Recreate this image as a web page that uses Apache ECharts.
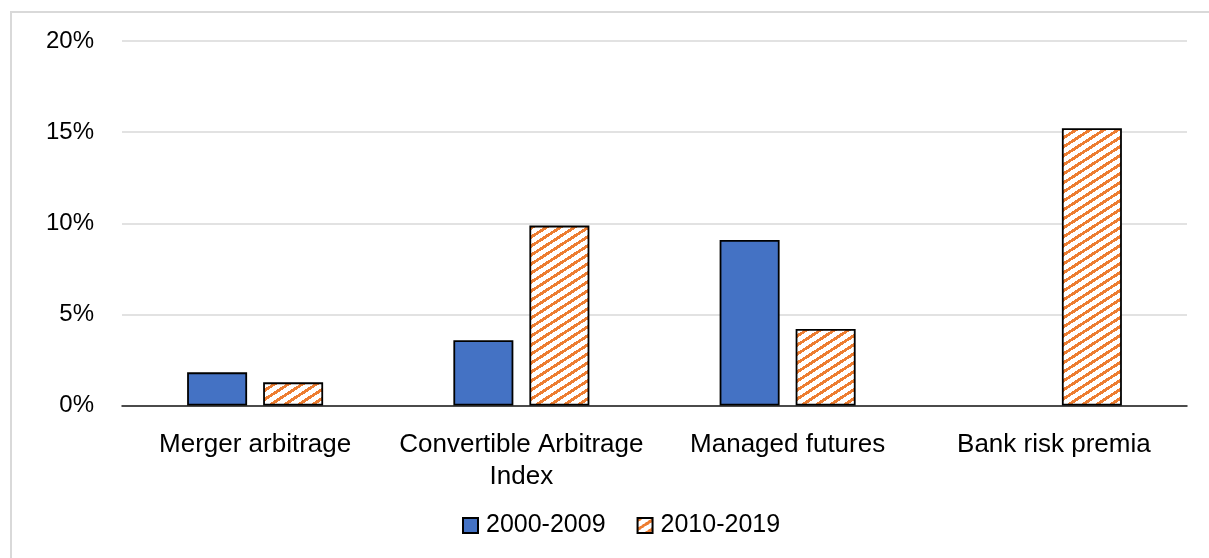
<!DOCTYPE html>
<html>
<head>
<meta charset="utf-8">
<script src="https://cdn.jsdelivr.net/npm/echarts@6/dist/echarts.min.js"></script>
<style>
html,body{margin:0;padding:0;background:#fff;}
#chart{width:1209px;height:558px;}
</style>
</head>
<body>
<div id="chart"></div>
<script>
const categories = ["Merger arbitrage", "Convertible Arbitrage\nIndex", "Managed futures", "Bank risk premia"];
const seriesNames = ["2000-2009", "2010-2019"];
const values2000 = [1.82, 3.58, 9.08, null];
const values2010 = [1.27, 9.87, 4.2, 15.21];
const yTicks = { min: 0, max: 20, interval: 5 };

function makeHatch() {
  const w = 14, h = 9;
  const c = document.createElement('canvas');
  c.width = w; c.height = h;
  const ctx = c.getContext('2d');
  ctx.fillStyle = '#ffffff';
  ctx.fillRect(0, 0, w, h);
  ctx.fillStyle = '#ED7D31';
  for (let x = 0; x < w; x++) {
    for (let y = 0; y < h; y++) {
      const d = ((y + x * h / w) % h + h) % h;
      if (d < 3.5) ctx.fillRect(x, y, 1, 1);
    }
  }
  return c;
}

const font = '"Liberation Sans", Arial, sans-serif';
const chart = echarts.init(document.getElementById('chart'), null, { renderer: 'canvas' });
chart.setOption({
  animation: false,
  backgroundColor: '#ffffff',
  textStyle: { fontFamily: font },
  graphic: [{
    type: 'rect', silent: true,
    shape: { x: 11, y: 12, width: 1400, height: 800 },
    style: { fill: 'none', stroke: '#d9d9d9', lineWidth: 2 }
  }],
  grid: { left: 122, right: 22, top: 41, bottom: 152.5 },
  legend: {
    left: 457, top: 508,
    icon: 'rect',
    itemWidth: 15, itemHeight: 15, itemGap: 31,
    textStyle: { fontSize: 25, color: '#000', fontFamily: font, padding: [0, 0, 0, 3] },
    data: seriesNames
  },
  xAxis: {
    type: 'category',
    data: categories,
    axisLine: { lineStyle: { color: '#1a1a1a', width: 1.5 } },
    axisTick: { show: false },
    axisLabel: { fontSize: 26, color: '#000', lineHeight: 32, margin: 23, interval: 0, fontFamily: font }
  },
  yAxis: {
    type: 'value',
    min: yTicks.min, max: yTicks.max, interval: yTicks.interval,
    axisLine: { show: false },
    axisTick: { show: false },
    splitLine: { lineStyle: { color: '#d9d9d9', width: 1.5 } },
    axisLabel: { fontSize: 24, color: '#000', margin: 28, formatter: '{value}%', fontFamily: font }
  },
  series: [
    {
      name: seriesNames[0], type: 'bar', data: values2000,
      barWidth: 60, barGap: '26.7%',
      itemStyle: { color: '#4472C4', borderColor: '#000', borderWidth: 1.8 }
    },
    {
      name: seriesNames[1], type: 'bar', data: values2010,
      barWidth: 60, barGap: '26.7%',
      itemStyle: { color: { image: makeHatch(), repeat: 'repeat' }, borderColor: '#000', borderWidth: 1.8 }
    }
  ]
});
</script>
</body>
</html>
